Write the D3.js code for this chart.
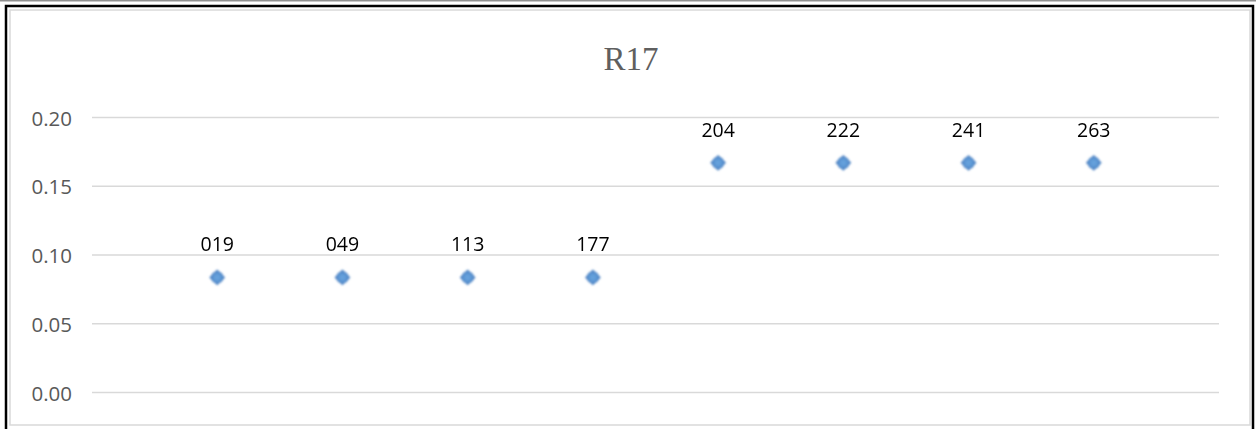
<!DOCTYPE html>
<html><head><meta charset="utf-8">
<script src="https://cdn.jsdelivr.net/npm/d3@7"></script>
<style>body{margin:0;background:#fff}svg{display:block}</style>
</head><body><svg id="c" width="1256" height="429"></svg>
<script>
const labels = ["019","049","113","177","204","222","241","263"];
const positions = [1,2,3,4,5,6,7,8];
const values = [0.0833,0.0833,0.0833,0.0833,0.1667,0.1667,0.1667,0.1667];
const yTicks = [0,0.05,0.10,0.15,0.20];
const title = "R17";

const svg = d3.select("#c");
// frames
svg.append("rect").attr("x",0).attr("y",0).attr("width",1256).attr("height",1.5).attr("fill","#909090");
svg.append("rect").attr("x",6).attr("y",6).attr("width",1247).attr("height",440).attr("fill","none").attr("stroke","#000").attr("stroke-width",2.5);
svg.append("rect").attr("x",10).attr("y",10).attr("width",1240).attr("height",415).attr("fill","none").attr("stroke","#d9d9d9").attr("stroke-width",1.5);

const x = d3.scaleLinear().domain([0,9]).range([92,1219]);
const y = d3.scaleLinear().domain([0,0.20]).range([392,117]);

const yAxis = d3.axisLeft(y).tickValues(yTicks).tickFormat(d3.format(".2f")).tickSize(-(1219-92)).tickPadding(0);
const g = svg.append("g").attr("transform","translate(92,0)").call(yAxis);
g.select(".domain").remove();
g.selectAll(".tick line").attr("stroke","#d9d9d9").attr("stroke-width",1.5);
g.selectAll(".tick text").attr("fill","#595959").attr("font-family","'Open Sans', sans-serif").attr("font-size","20.5px").attr("x",-20).attr("dy","0.4em");

svg.append("text").attr("x",631).attr("y",70).attr("text-anchor","middle")
  .attr("font-family","'Liberation Serif', serif").attr("font-size","33px").attr("fill","#5f5f5f").text(title);

const defs = svg.append("defs");
defs.append("filter").attr("id","bl").append("feGaussianBlur").attr("stdDeviation",0.8);
const rg = defs.append("radialGradient").attr("id","mg");
rg.append("stop").attr("offset","0%").attr("stop-color","#6aa6df");
rg.append("stop").attr("offset","70%").attr("stop-color","#5b95d3");
rg.append("stop").attr("offset","100%").attr("stop-color","#4a7fc0");

const pts = svg.append("g").attr("filter","url(#bl)");
pts.selectAll("path").data(values).join("path")
  .attr("d", d3.symbol(d3.symbolSquare, 125))
  .attr("transform",(d,i)=>`translate(${x(positions[i])},${y(d)}) rotate(45)`)
  .attr("fill","url(#mg)");
pts.selectAll("circle").data(values).join("circle")
  .attr("cx",(d,i)=>x(positions[i])).attr("cy",d=>y(d)).attr("r",6.2)
  .attr("fill","url(#mg)");

svg.append("g").selectAll("text").data(values).join("text")
  .attr("x",(d,i)=>x(positions[i])).attr("y",d=>y(d)-26)
  .attr("text-anchor","middle").attr("font-family","'Open Sans', sans-serif").attr("font-size","19.5px").attr("fill","#000")
  .text((d,i)=>labels[i]);
</script></body></html>
